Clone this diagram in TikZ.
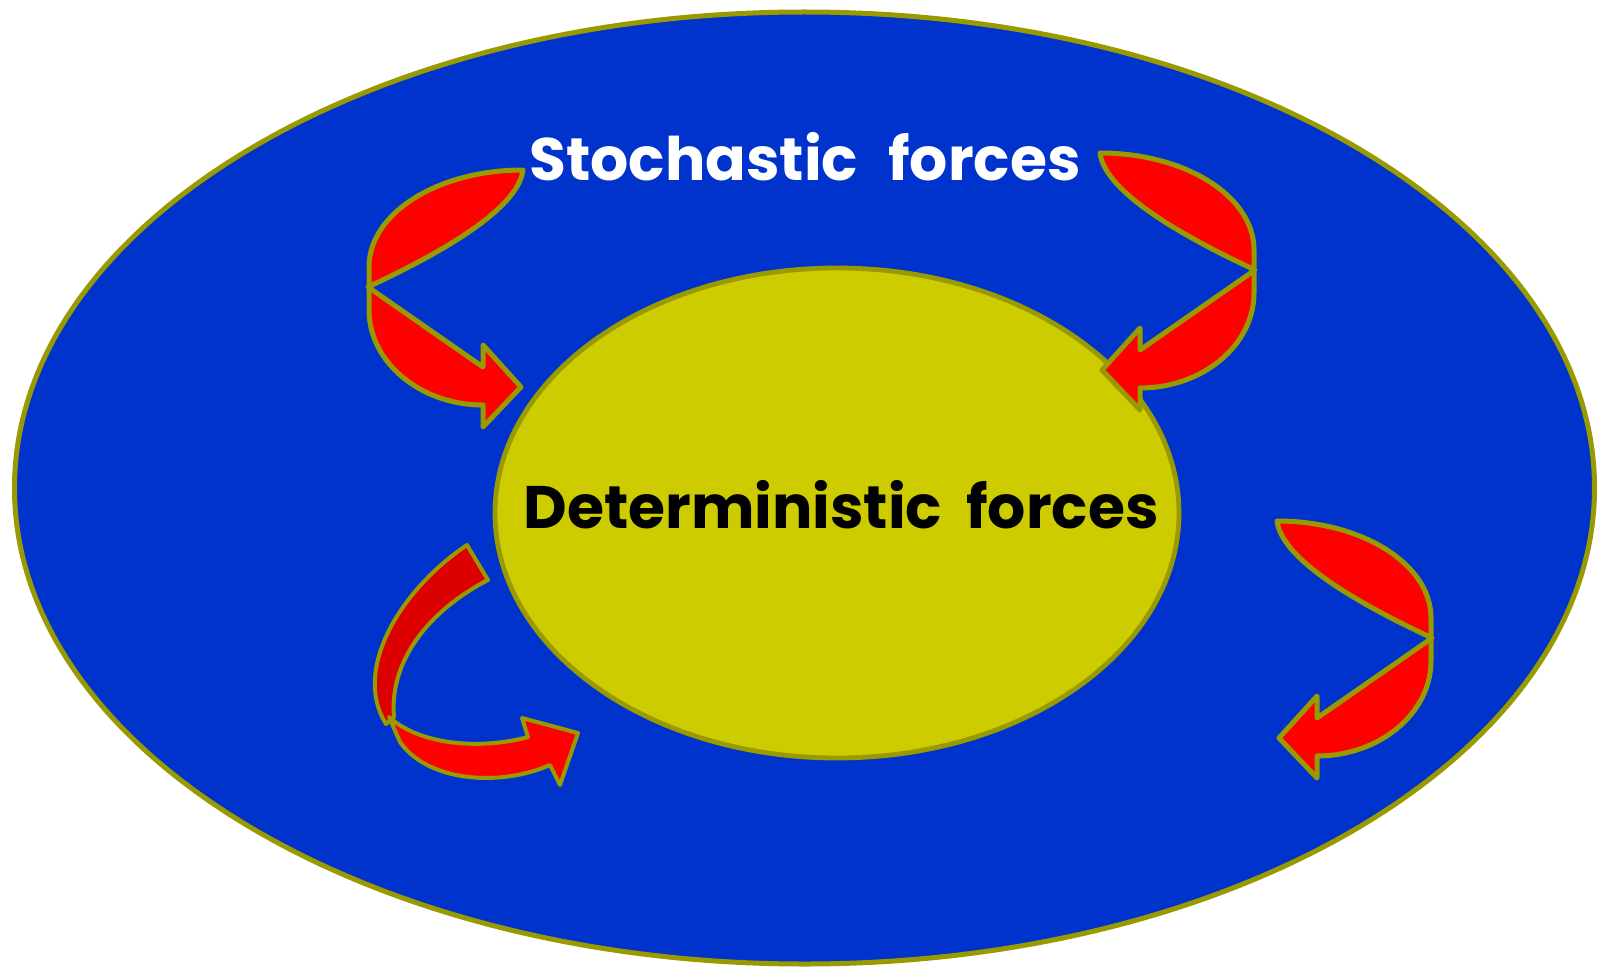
\documentclass[tikz,border=0pt]{standalone}
\usepackage{fontspec}
\setmainfont{Poppins}
\usetikzlibrary{shapes.geometric}

\definecolor{fieldblue}{HTML}{0033CC}
\definecolor{rimolive}{HTML}{999900}
\definecolor{coreyellow}{HTML}{CCCC00}
\definecolor{kickred}{HTML}{FF0000}
\definecolor{backred}{HTML}{DD0000}

\tikzset{
  kickarrow/.pic={
    \draw[fill=kickred, draw=rimolive, line width=2.5pt, line join=round]
      (-155,-117) .. controls (-70,-117) and (-1,-74) .. (-1,-20)
      -- (-1,23) .. controls (-1,75) and (-52,118) .. (-115,118)
      -- (-115,140) -- (-153,100) -- (-115,58) -- (-115,80)
      -- (0,0) .. controls (-60,-28) and (-150,-75) .. cycle;
  }
}

\begin{document}
\begin{tikzpicture}[x=0.5pt, y=-0.5pt]
    \useasboundingbox (0,0) rectangle (1604,968);

    % Ellipses
    \node[draw=rimolive, fill=fieldblue, ellipse, line width=2.5pt, inner sep=0pt, minimum width=790pt, minimum height=476pt] (field) at (804.5,488) {};
    \node[draw=rimolive, fill=coreyellow, ellipse, line width=2.4pt, inner sep=0pt, minimum width=342pt, minimum height=245pt] (core) at (837,513) {};

    % Labels
    \node[text=white, font=\fontsize{30}{36}\selectfont\bfseries] (stoch) at (805,157) {Stochastic\hspace{15pt}forces};
    \node[text=black, font=\fontsize{30}{36}\selectfont\bfseries] (determ) at (841,505) {Deterministic\hspace{12pt}forces};

    % Kicks
    \pic[xscale=-1] at (368,287) {kickarrow};
    \pic at (1255,270) {kickarrow};
    \pic at (1432,638) {kickarrow};

    % Twisted arrow
    \draw[fill=backred, draw=rimolive, line width=2pt, line join=round]
      (467,545) .. controls (400,590) and (352,670) .. (386,724)
      -- (394,717) .. controls (389,660) and (430,610) .. (488,580) -- cycle;
    \draw[fill=kickred, draw=rimolive, line width=2pt, line join=round]
      (389,717) .. controls (420,745) and (480,750) .. (528,737)
      -- (522,718) -- (578,733) -- (560,785) -- (550,765)
      .. controls (500,787) and (428,782) .. (400,742) -- cycle;
\end{tikzpicture}
\end{document}
